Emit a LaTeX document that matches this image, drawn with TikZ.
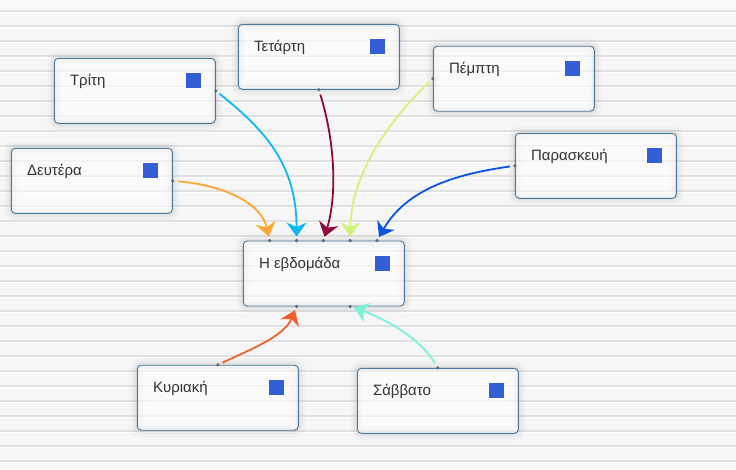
\documentclass[tikz,border=0pt]{standalone}
\usepackage{fontspec}
\setmainfont{Liberation Sans}
\usetikzlibrary{arrows.meta}
\definecolor{bgc}{HTML}{F6F6F6}
\definecolor{rulec}{HTML}{E0E0E0}
\definecolor{boxc}{HTML}{4A7B9D}
\definecolor{sqc}{HTML}{335ED6}
\definecolor{dotc}{HTML}{5B6B78}
\definecolor{txtc}{HTML}{333333}
\definecolor{cOr}{HTML}{FFA733}
\definecolor{cSky}{HTML}{0AB8F8}
\definecolor{cCr}{HTML}{8B0A3A}
\definecolor{cLi}{HTML}{D4F27A}
\definecolor{cBl}{HTML}{0A52E0}
\definecolor{cOR}{HTML}{F0602A}
\definecolor{cAq}{HTML}{78F2D8}
\tikzset{
  daybox/.style={rectangle, rounded corners=4pt, draw=boxc, line width=0.9pt,
    minimum width=161pt, minimum height=65pt, inner sep=0pt,
    fill=white, fill opacity=0.55,
    preaction={draw=black, draw opacity=0.025, line width=14pt, fill opacity=0},
    preaction={draw=black, draw opacity=0.03, line width=8pt, fill opacity=0},
    preaction={draw=black, draw opacity=0.035, line width=3.5pt, fill opacity=0}},
  lbl/.style={anchor=base west, inner sep=0pt, text=txtc,
    font=\fontsize{15}{18}\selectfont},
  sq/.style={rectangle, fill=sqc, minimum size=15pt, inner sep=0pt},
  pin/.style={circle, fill=dotc, minimum size=3.6pt, inner sep=0pt},
  conn/.style={line width=1.8pt, shorten <=5pt, shorten >=4pt,
    -{Stealth[length=14pt 0 0, width=20pt 0 0, inset=4.5pt]}}
}
\begin{document}
\begin{tikzpicture}[x=1pt, y=-1pt]
\useasboundingbox (0,0) rectangle (736,469);
\fill[bgc] (0,0) rectangle (736,469);
\foreach \yy in {11,26,...,461} {
  \draw[rulec, line width=1.1pt] (0,\yy) -- (736,\yy);
  \draw[white, line width=0.8pt] (0,\yy+1.2) -- (736,\yy+1.2);
}
\fill[white, opacity=0.55] (0,0) rectangle (736,7);

% boxes
\node[daybox] (tri) at (134.8,90.8) {};
\node[daybox] (tet) at (318.8,56.8) {};
\node[daybox] (det) at (91.8,180.8) {};
\node[daybox] (pem) at (513.8,78.7) {};
\node[daybox] (par) at (595.8,165.8) {};
\node[daybox] (wk)  at (323.8,273.5) {};
\node[daybox] (kyr) at (217.8,397.7) {};
\node[daybox] (sab) at (437.8,400.8) {};

% labels and squares
\foreach \b/\t in {tri/Τρίτη, tet/Τετάρτη, det/Δευτέρα, pem/Πέμπτη, par/Παρασκευή, wk/Η εβδομάδα, kyr/Κυριακή, sab/Σάββατο} {
  \node[lbl] (\b-t) at ([xshift=16pt, yshift=-28pt]\b.north west) {\t};
  \node[sq] (\b-s) at ([xshift=-22pt, yshift=-22.5pt]\b.north east) {};
}

% connection points
\coordinate (dDe) at (det.east);
\coordinate (dTr) at (tri.east);
\coordinate (dTe) at (tet.south);
\coordinate (dPe) at (pem.west);
\coordinate (dPa) at (par.west);
\coordinate (dKy) at (kyr.north);
\coordinate (dSa) at (sab.north);
\coordinate (w1) at ([xshift=26.8pt]wk.north west);
\coordinate (w2) at ([xshift=53.7pt]wk.north west);
\coordinate (w3) at ([xshift=80.5pt]wk.north west);
\coordinate (w4) at ([xshift=107.3pt]wk.north west);
\coordinate (w5) at ([xshift=134.2pt]wk.north west);
\coordinate (wb1) at ([xshift=53.7pt]wk.south west);
\coordinate (wb2) at ([xshift=107.3pt]wk.south west);

% connectors
\draw[conn, cOr] (dDe) .. controls +(55,5) and +(-8,-36) .. (w1);
\draw[conn, cSky] (dTr) .. controls +(49,39) and +(0,-76) .. (w2);
\draw[conn, cCr] (dTe) .. controls +(16,51) and +(14,-46) .. (w3);
\draw[conn, cLi] (dPe) .. controls +(-38,36) and +(1,-71) .. (w4);
\draw[conn, cBl] (dPa) .. controls +(-65,9) and +(28,-49) .. (w5);
\draw[conn, cOR] (dKy) .. controls +(37,-17) and +(-12,29) .. (wb1);
\draw[conn, cAq] (dSa) .. controls +(-18,-30) and +(34,12) .. (wb2);

% pins
\foreach \c in {dDe,dTr,dTe,dPe,dPa,dKy,dSa,w1,w2,w3,w4,w5,wb1,wb2}
  \node[pin] at (\c) {};
\end{tikzpicture}
\end{document}
